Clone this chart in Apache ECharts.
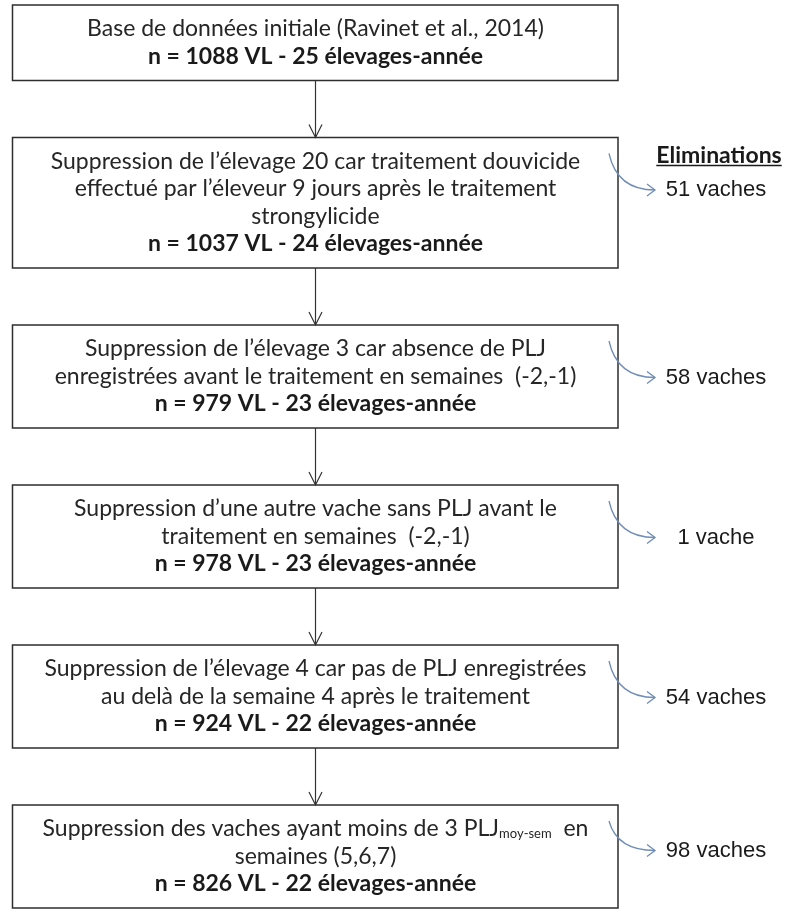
<!DOCTYPE html>
<html><head><meta charset="utf-8">
<script src="https://cdn.jsdelivr.net/npm/echarts@6/dist/echarts.min.js"></script>
<style>html,body{margin:0;padding:0;background:#fff}#c{width:787px;height:914px}</style>
</head><body><div id="c"></div>
<script>
// ---- data ----
const stepTexts = [
  ["Base de données initiale (Ravinet et al., 2014)"],
  ["Suppression de l’élevage 20 car traitement douvicide", "effectué par l’éleveur 9 jours après le traitement", "strongylicide"],
  ["Suppression de l’élevage 3 car absence de PLJ", "enregistrées avant le traitement en semaines  (-2,-1)"],
  ["Suppression d’une autre vache sans PLJ avant le", "traitement en semaines  (-2,-1)"],
  ["Suppression de l’élevage 4 car pas de PLJ enregistrées", "au delà de la semaine 4 après le traitement"],
  ["Suppression des vaches ayant moins de 3 PLJ{sub|moy-sem}  en", "semaines (5,6,7)"]
];
const cowsVL = [1088, 1037, 979, 978, 924, 826];
const farmYears = [25, 24, 23, 23, 22, 22];
const cowsRemoved = [null, 51, 58, 1, 54, 98];
const sideTitle = "Eliminations";

// ---- layout / style ----
const W = 787, H = 914;
const BOX_L = 12.5, BOX_R = 618, BOX_C = 315.5;
const LINE_H = 27.5, PAD = 24, GAP = 57, TOP0 = 5;
const MAIN_FONT = 'Lato', SIDE_FONT = 'Liberation Sans';
const layout = [];
(function () {
  let y = TOP0;
  stepTexts.forEach(function (t, i) {
    const n = t.length + 1;
    const h = 2 * PAD + (n - 1) * LINE_H;
    layout.push({ top: y, bottom: y + h, n: n });
    y += h + GAP;
  });
})();

function measure(text, font) {
  const c = document.createElement('canvas').getContext('2d');
  c.font = font;
  return c.measureText(text).width;
}

function renderItem(params, api) {
  const i = api.value(0);
  const L = layout[i];
  const p0 = api.coord([BOX_L, L.top]);
  const p1 = api.coord([BOX_R, L.bottom]);
  const cx = api.coord([BOX_C, 0])[0];
  const yc = function (v) { return api.coord([0, v])[1]; };
  const xc = function (v) { return api.coord([v, 0])[0]; };
  const ch = [];
  ch.push({ type: 'rect', shape: { x: p0[0], y: p0[1], width: p1[0] - p0[0], height: p1[1] - p0[1] },
    style: { fill: '#fff', stroke: '#2e2e2e', lineWidth: 1.5 } });
  const lines = stepTexts[i].slice();
  lines.forEach(function (t, j) {
    ch.push({ type: 'text', style: { text: t, x: cx, y: yc(L.top + PAD + j * LINE_H), align: 'center', verticalAlign: 'middle',
      fontFamily: MAIN_FONT, fontSize: 23, fill: '#262626',
      rich: { sub: { fontSize: 13, fontFamily: MAIN_FONT, verticalAlign: 'bottom', lineHeight: 13, fill: '#262626' } } } });
  });
  const nLine = 'n = ' + cowsVL[i] + ' VL - ' + farmYears[i] + ' élevages-année';
  ch.push({ type: 'text', style: { text: nLine, x: cx, y: yc(L.top + PAD + lines.length * LINE_H), align: 'center', verticalAlign: 'middle',
    fontFamily: MAIN_FONT, fontWeight: 'bold', fontSize: 23, fill: '#1a1a1a' } });
  if (i > 0) {
    const prev = layout[i - 1];
    const ya = yc(prev.bottom), yb = yc(L.top);
    ch.push({ type: 'line', shape: { x1: cx, y1: ya, x2: cx, y2: yb }, style: { stroke: '#333', lineWidth: 1.2 } });
    ch.push({ type: 'polyline', shape: { points: [[cx - 6.5, yb - 13], [cx, yb], [cx + 6.5, yb - 13]] }, style: { stroke: '#333', lineWidth: 1.2, fill: null } });
    // elimination arrow
    const y1 = yc(L.top + PAD - 8);
    const y2 = yc(L.top + PAD + LINE_H + (i === stepTexts.length - 1 ? -6 : 1));
    const xs = xc(609), xe = xc(655);
    ch.push({ type: 'bezierCurve', shape: { x1: xs, y1: y1, x2: xe, y2: y2, cpx1: xs + 8, cpy1: y2 },
      style: { stroke: '#6f8db5', lineWidth: 1.3, fill: null } });
    ch.push({ type: 'polyline', shape: { points: [[xe - 8, y2 - 6], [xe, y2], [xe - 8, y2 + 6]] },
      style: { stroke: '#6f8db5', lineWidth: 1.3, fill: null } });
    const lab = cowsRemoved[i] + (cowsRemoved[i] > 1 ? ' vaches' : ' vache');
    ch.push({ type: 'text', style: { text: lab, x: xc(716), y: y2, align: 'center', verticalAlign: 'middle',
      fontFamily: SIDE_FONT, fontSize: 22, fill: '#1a1a1a' } });
    if (i === 1) {
      const ty = yc(L.top + PAD - 6);
      const tx = xc(719);
      const w = measure(sideTitle, 'bold 23px ' + MAIN_FONT);
      ch.push({ type: 'text', style: { text: sideTitle, x: tx, y: ty, align: 'center', verticalAlign: 'middle',
        fontFamily: MAIN_FONT, fontWeight: 'bold', fontSize: 23, fill: '#1a1a1a' } });
      ch.push({ type: 'line', shape: { x1: tx - w / 2, y1: ty + 10, x2: tx + w / 2, y2: ty + 10 }, style: { stroke: '#1a1a1a', lineWidth: 1.6 } });
    }
  }
  return { type: 'group', children: ch };
}

const chart = echarts.init(document.getElementById('c'), null, { renderer: 'canvas' });
chart.setOption({
  animation: false,
  backgroundColor: '#fff',
  grid: { left: 0, right: 0, top: 0, bottom: 0 },
  xAxis: { type: 'value', min: 0, max: W, show: false },
  yAxis: { type: 'value', min: 0, max: H, inverse: true, show: false },
  series: [{
    type: 'custom', coordinateSystem: 'cartesian2d', clip: false,
    renderItem: renderItem,
    data: stepTexts.map(function (t, i) { return [i, 0]; })
  }]
});
</script></body></html>
